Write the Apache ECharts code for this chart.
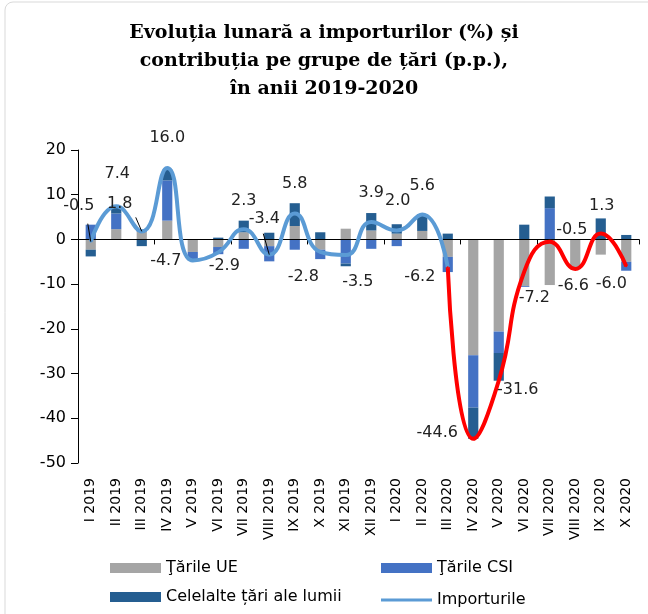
<!DOCTYPE html>
<html>
<head>
<meta charset="utf-8">
<script src="https://cdn.jsdelivr.net/npm/echarts@6/dist/echarts.min.js"></script>
<style>
  html, body { margin: 0; padding: 0; background: #fff; }
  #chart { width: 648px; height: 614px; }
</style>
</head>
<body>
<div id="chart"></div>
<script>
// luni
const months = ['I 2019', 'II 2019', 'III 2019', 'IV 2019', 'V 2019', 'VI 2019', 'VII 2019',
  'VIII 2019', 'IX 2019', 'X 2019', 'XI 2019', 'XII 2019', 'I 2020', 'II 2020', 'III 2020',
  'IV 2020', 'V 2020', 'VI 2020', 'VII 2020', 'VIII 2020', 'IX 2020', 'X 2020']

// contributii (p.p.)
const tarileUE = [-2.3, 2.3, 1.7, 4.2, -2.8, -1.7, 1.6, -1.5, 3.0, -2.3, 2.4, 2.0, 1.3, 1.9, -3.9,
  -25.9, -20.6, -10.4, -10.2, -6.6, -3.4, -5.0]
const tarileCSI = [3.3, 3.5, 0.5, 9.0, -1.9, -1.6, -2.1, -3.4, -2.3, -2.1, -5.4, -2.1, -1.5, 0, -3.4,
  -11.7, -4.8, -0.2, 7.0, 0, 0, -2.0]
const celelalte = [-1.5, 1.5, -1.5, 2.4, 0, 0.4, 2.6, 1.5, 5.1, 1.6, -0.6, 3.9, 2.1, 3.7, 1.3,
  -7.0, -6.2, 3.3, 2.6, 0, 4.7, 1.0]

// evolutia importurilor (%)
const importurile = [-0.5, 7.4, 1.8, 16.0, -4.7, -2.9, 2.3, -3.4, 5.8, -2.8, -3.5, 3.9, 2.0, 5.6, -6.2,
  -44.6, -31.6, -7.2, -0.5, -6.6, 1.3, -6.0]

// de aici linia devine rosie
const splitIdx = 14

// pozitia etichetelor fata de punct (px)
const labelOffsets = [[-12, -36], [1, -32], [-22, -28], [0, -30], [-27, 0], [6, 13], [0, -28],
  [-5, -36], [0, -30], [-17, 25], [12, 27], [0, -29], [1, -30], [0, -29], [-28, 10],
  [-36, -6], [19, 9], [10, 26], [22, -12], [-2, 17], [1, -28], [-15, 18]]
// linii de legatura eticheta -> punct
const leaderLines = { 0: [-3, -18], 2: [-6, -14], 7: [-6, -21] }

const FONT = 'DejaVu Sans'

function lineData (from, to) {
  return importurile.map((v, i) => (i < from || i > to ? '-' : v))
}

function labelShift (params) {
  const o = labelOffsets[params.dataIndex]
  return { dx: o[0], dy: o[1] }
}

function labelStyle (skipIdx) {
  return {
    show: true,
    position: 'inside',
    formatter: p => (p.dataIndex === skipIdx ? '' : p.value.toFixed(1)),
    color: '#222',
    fontSize: 16,
    fontFamily: FONT
  }
}

const frame = {
  type: 'rect',
  id: 'frame',
  shape: { x: 5, y: 2, width: 700, height: 700, r: 8 },
  style: { fill: 'none', stroke: '#d9d9d9', lineWidth: 1 },
  silent: true
}

let myChart = echarts.init(document.getElementById('chart'))

let opt = {
  backgroundColor: '#fff',
  animation: false,
  graphic: [frame],
  title: {
    text: 'Evoluția lunară a importurilor (%) și\ncontribuția pe grupe de țări (p.p.),\nîn anii 2019-2020',
    left: 'center',
    top: 14,
    textStyle: {
      fontFamily: 'DejaVu Serif',
      fontWeight: 'bold',
      fontSize: 19,
      lineHeight: 28,
      color: '#000',
      align: 'center'
    }
  },
  legend: [
    {
      orient: 'vertical',
      left: 105,
      top: 555,
      itemGap: 13,
      itemWidth: 51,
      itemHeight: 10,
      icon: 'rect',
      data: ['Ţările UE', 'Celelalte țări ale lumii'],
      textStyle: { fontFamily: FONT, fontSize: 16, color: '#000' }
    },
    {
      orient: 'vertical',
      left: 376,
      top: 555,
      itemWidth: 51,
      itemHeight: 10,
      icon: 'rect',
      data: ['Ţările CSI'],
      textStyle: { fontFamily: FONT, fontSize: 16, color: '#000' }
    },
    {
      orient: 'vertical',
      left: 376,
      top: 587,
      itemWidth: 51,
      itemHeight: 3,
      icon: 'rect',
      data: ['Importurile'],
      textStyle: { fontFamily: FONT, fontSize: 16, color: '#000' }
    }
  ],
  grid: {
    left: 78,
    right: 9,
    top: 150,
    bottom: 151
  },
  xAxis: [
    {
      type: 'category',
      data: months,
      z: 3,
      axisLine: { onZero: true, lineStyle: { color: '#000', width: 1 } },
      axisTick: { show: true, length: 5, lineStyle: { color: '#000' } },
      axisLabel: { show: false }
    },
    {
      type: 'category',
      data: months,
      position: 'bottom',
      axisLine: { show: false, onZero: false },
      axisTick: { show: false },
      axisLabel: {
        interval: 0,
        rotate: 90,
        margin: 15,
        color: '#000',
        fontSize: 14,
        fontFamily: FONT
      }
    }
  ],
  yAxis: {
    type: 'value',
    min: -50,
    max: 20,
    interval: 10,
    axisLine: { show: true, lineStyle: { color: '#000' } },
    axisTick: { show: true, length: 7, lineStyle: { color: '#000' } },
    splitLine: { show: false },
    axisLabel: {
      margin: 12,
      color: '#000',
      fontSize: 16,
      fontFamily: FONT
    }
  },
  series: [
    {
      name: 'Ţările UE',
      type: 'bar',
      stack: 'contrib',
      barWidth: '40%',
      z: 2,
      itemStyle: { color: '#A5A5A5' },
      data: tarileUE
    },
    {
      name: 'Ţările CSI',
      type: 'bar',
      stack: 'contrib',
      barWidth: '40%',
      z: 2,
      itemStyle: { color: '#4472C4' },
      data: tarileCSI
    },
    {
      name: 'Celelalte țări ale lumii',
      type: 'bar',
      stack: 'contrib',
      barWidth: '40%',
      z: 2,
      itemStyle: { color: '#255E91' },
      data: celelalte
    },
    {
      name: 'Importurile',
      type: 'line',
      smooth: 0.5,
      z: 4,
      symbol: 'circle',
      symbolSize: 2,
      itemStyle: { color: '#5B9BD5' },
      lineStyle: { color: '#5B9BD5', width: 4 },
      label: labelStyle(-1),
      labelLayout: labelShift,
      data: lineData(0, splitIdx)
    },
    {
      name: 'Importurile 2020',
      type: 'line',
      smooth: 0.5,
      z: 4,
      symbol: 'circle',
      symbolSize: 2,
      itemStyle: { color: '#FF0000' },
      lineStyle: { color: '#FF0000', width: 4 },
      label: labelStyle(splitIdx),
      labelLayout: labelShift,
      data: lineData(splitIdx, importurile.length - 1)
    }
  ]
}

myChart.setOption(opt)

// linii de legatura pentru cateva etichete
const leaders = Object.keys(leaderLines).map(k => {
  const i = Number(k)
  const p = myChart.convertToPixel({ seriesIndex: 3 }, [i, importurile[i]])
  const d = leaderLines[k]
  return {
    type: 'line',
    silent: true,
    z: 10,
    shape: { x1: p[0] + d[0], y1: p[1] + d[1], x2: p[0], y2: p[1] },
    style: { stroke: '#000', lineWidth: 1 }
  }
})
myChart.setOption({ graphic: [frame].concat(leaders) })
</script>
</body>
</html>
